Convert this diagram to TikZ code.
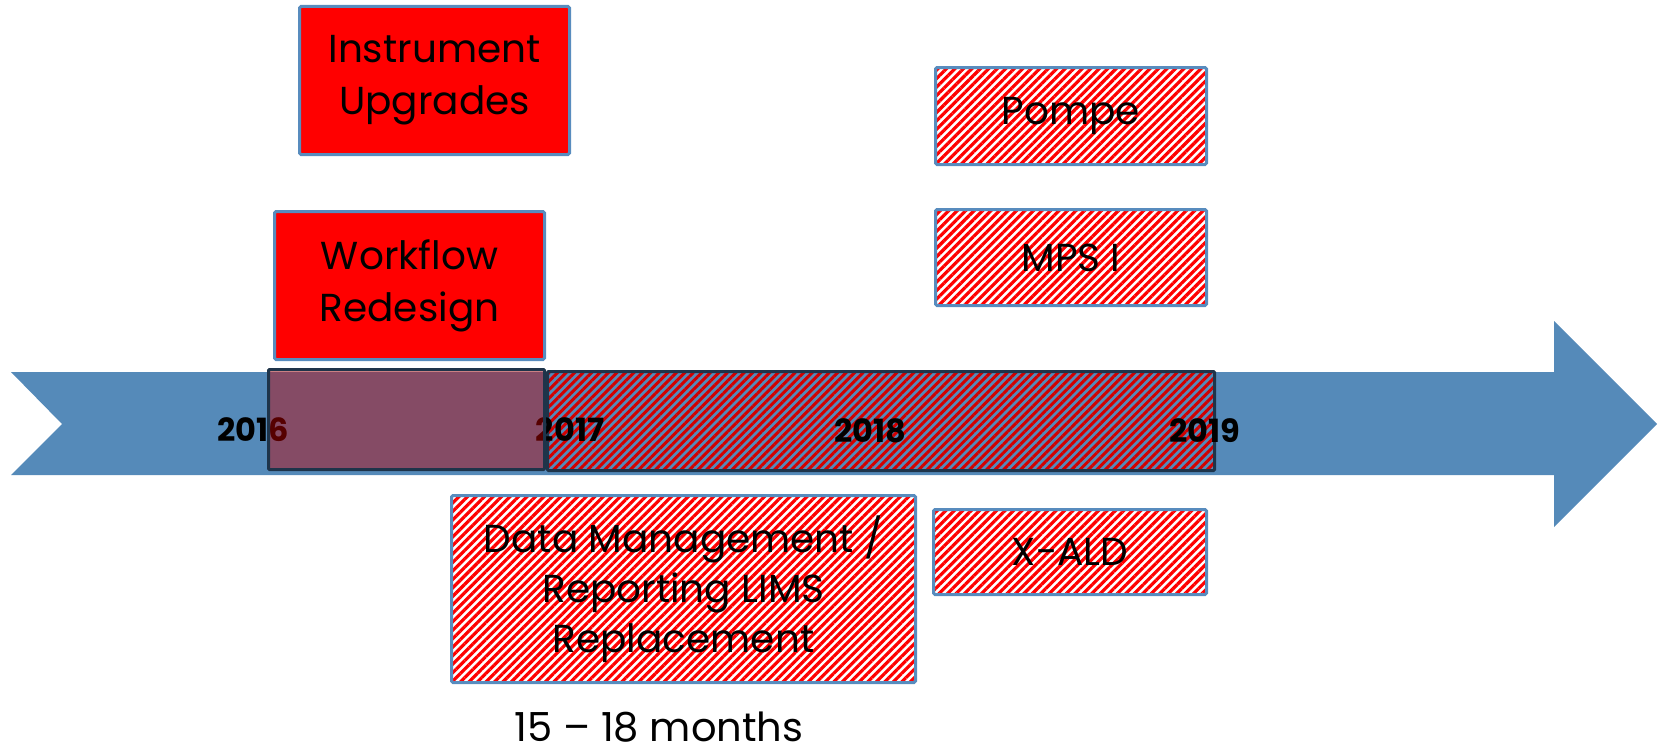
\documentclass[tikz,border=0pt]{standalone}
\usepackage{fontspec}
\setmainfont{Poppins}
\usetikzlibrary{patterns.meta}

\definecolor{arrowblue}{RGB}{85,138,185}
\definecolor{boxblue}{RGB}{88,140,190}
\definecolor{frame}{RGB}{30,52,74}
\definecolor{deepred}{RGB}{192,0,0}
\definecolor{stripered}{RGB}{210,0,0}

\tikzset{
  plainbox/.style={draw=boxblue, line width=3pt, rounded corners=1.5pt, fill=red,
    align=center, inner sep=0pt, font=\fontsize{39}{52}\selectfont},
  hatchbox/.style={draw=boxblue, line width=3pt, rounded corners=1.5pt,
    preaction={fill=white},
    pattern={Lines[angle=45,distance=6pt,line width=3.2pt]}, pattern color=red,
    align=center, inner sep=0pt, font=\fontsize{39}{50}\selectfont},
  spanbox/.style={draw=frame, line width=3pt, rounded corners=1pt,
    pattern={Lines[angle=45,distance=6pt,line width=3pt]}, pattern color=stripered,
    inner sep=0pt},
  phasebox/.style={draw=frame, line width=3pt, rounded corners=1pt,
    fill=deepred, fill opacity=0.45, draw opacity=1, inner sep=0pt},
  year/.style={font=\fontsize{32}{36}\selectfont\bfseries, inner sep=0pt},
}

\begin{document}
\begin{tikzpicture}[x=1pt, y=-1pt]
  \useasboundingbox (0,0) rectangle (1661,752);

  % timeline arrow
  \fill[arrowblue] (11,372) -- (1554,372) -- (1554,321) -- (1657,424)
    -- (1554,527) -- (1554,475) -- (11,475) -- (62,424) -- cycle;

  % hatched span 2017--2019 on the timeline
  \node[spanbox, minimum width=667pt, minimum height=99pt] (span) at (881,421) {};

  % year marks
  \node[year] (y2016) at (253,430) {2016};
  \node[year] (y2017) at (570,430) {2017};
  \node[year] (y2018) at (870,431) {2018};
  \node[year] (y2019) at (1205,431) {2019};

  % first phase, translucent over the timeline
  \node[phasebox, minimum width=276pt, minimum height=100pt] (phase) at (406.5,419.5) {};

  % project boxes
  \node[plainbox, minimum width=270pt, minimum height=148pt] (instr) at (434.5,80.5)
    {Instrument\\Upgrades};
  \node[plainbox, minimum width=270pt, minimum height=148pt] (work) at (409.5,285.5)
    {Workflow\\Redesign};
  \node[hatchbox, minimum width=271pt, minimum height=97pt] (pompe) at (1071,116)
    {Pompe};
  \node[hatchbox, minimum width=271pt, minimum height=96pt] (mps) at (1071,257.5)
    {MPS I};
  \node[hatchbox, minimum width=273pt, minimum height=85pt] (xald) at (1070,552)
    {X-ALD};
  \node[hatchbox, minimum width=464pt, minimum height=187pt] (lims) at (683.5,589)
    {Data Management /\\Reporting LIMS\\Replacement};

  % duration note
  \node[font=\fontsize{40}{44}\selectfont, inner sep=0pt, anchor=base,
    text depth=0pt] (dur) at (659,741) {15 -- 18 months};
\end{tikzpicture}
\end{document}
